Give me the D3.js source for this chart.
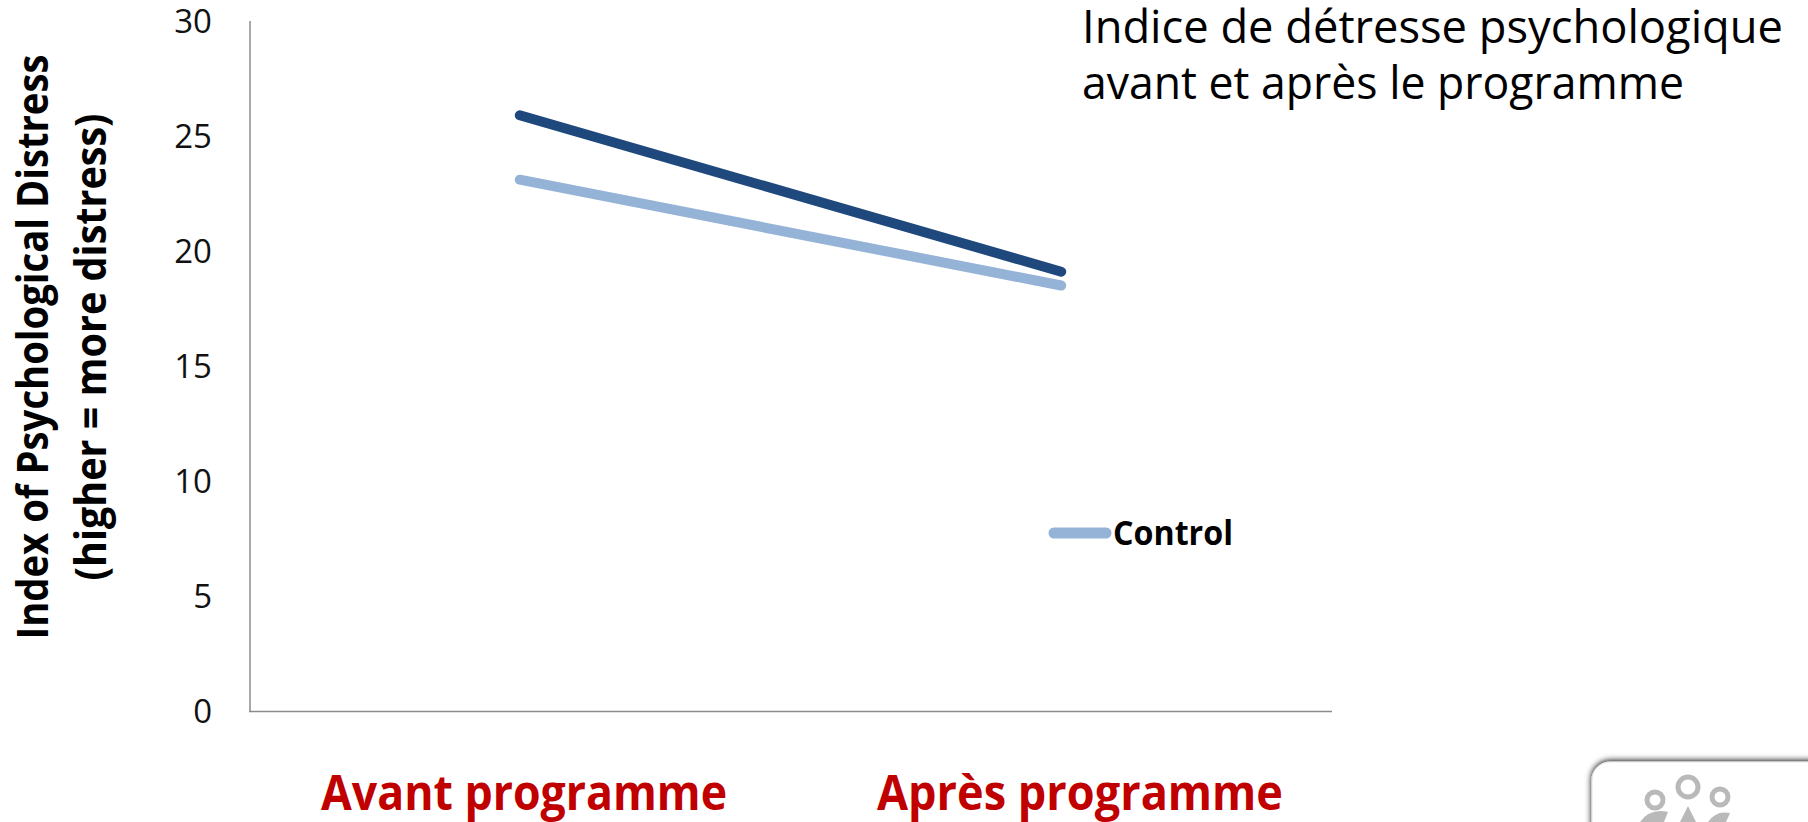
<!DOCTYPE html>
<html>
<head>
<meta charset="utf-8">
<script src="https://cdn.jsdelivr.net/npm/d3@7"></script>
<style>
  html, body { margin: 0; padding: 0; background: #ffffff; }
  svg { display: block; }
</style>
</head>
<body>
<svg id="chart" width="1808" height="822"></svg>
<script>
// ---- data ----
const categories = ["Avant programme", "Après programme"];
const interventionValues = [25.9, 19.1];
const controlValues = [23.1, 18.5];
const yTicks = [0, 5, 10, 15, 20, 25, 30];
const seriesNames = ["Intervention", "Control"];
const titleLines = ["Indice de détresse psychologique", "avant et après le programme"];
const yTitleLines = ["Index of Psychological Distress", "(higher = more distress)"];

const svg = d3.select("#chart");

const x = d3.scalePoint().domain(categories).range([249, 1332]).padding(0.5);
const xLabel = d3.scalePoint().domain(categories).range([246, 1358]).padding(0.5);
const y = d3.scaleLinear().domain([0, 30]).range([711, 21]);

// axes lines
svg.append("line").attr("x1", 250).attr("x2", 250).attr("y1", y(30)).attr("y2", y(0))
  .attr("stroke", "#8c8c8c").attr("stroke-width", 1.5);
svg.append("line").attr("x1", 249).attr("x2", 1332).attr("y1", y(0) + 0.5).attr("y2", y(0) + 0.5)
  .attr("stroke", "#8c8c8c").attr("stroke-width", 1.5);

// y tick labels
svg.append("g").selectAll("text").data(yTicks).join("text")
  .attr("x", 212).attr("y", d => y(d) + 12)
  .attr("text-anchor", "end")
  .attr("font-family", "'Open Sans', sans-serif")
  .attr("font-size", 33).attr("fill", "#111")
  .text(d => d);

// y-axis title
const yt = svg.append("g");
yTitleLines.forEach((t, i) => {
  yt.append("text")
    .attr("transform", `translate(${[48, 106][i]},${347}) rotate(-90)`)
    .attr("text-anchor", "middle")
    .attr("font-family", "'Open Sans', sans-serif")
    .attr("font-weight", "bold")
    .attr("font-size", 43)
    .attr("textLength", [585, 467][i])
    .attr("lengthAdjust", "spacingAndGlyphs")
    .attr("fill", "#000")
    .text(t);
});

// category labels
svg.append("g").selectAll("text").data(categories).join("text")
  .attr("x", d => xLabel(d)).attr("y", 810)
  .attr("text-anchor", "middle")
  .attr("font-family", "'Open Sans', sans-serif")
  .attr("font-weight", "bold")
  .attr("font-size", 48)
  .attr("textLength", 406)
  .attr("lengthAdjust", "spacingAndGlyphs")
  .attr("fill", "#C00000")
  .text(d => d);

// lines
const line = d3.line().x((d, i) => x(categories[i])).y(d => y(d));
svg.append("path").datum(controlValues).attr("d", line)
  .attr("fill", "none").attr("stroke", "#95B3D7").attr("stroke-width", 10)
  .attr("stroke-linecap", "round");
svg.append("path").datum(interventionValues).attr("d", line)
  .attr("fill", "none").attr("stroke", "#1F497D").attr("stroke-width", 10)
  .attr("stroke-linecap", "round");

// legend (Control)
const lg = svg.append("g").attr("transform", "translate(1049,533)");
lg.append("line").attr("x1", 5).attr("x2", 57).attr("y1", 0).attr("y2", 0)
  .attr("stroke", "#95B3D7").attr("stroke-width", 11).attr("stroke-linecap", "round");
lg.append("text").attr("x", 64).attr("y", 12)
  .attr("font-family", "'Open Sans', sans-serif").attr("font-weight", "bold")
  .attr("font-size", 34).attr("textLength", 120).attr("lengthAdjust", "spacingAndGlyphs")
  .attr("fill", "#000").text(seriesNames[1]);

// title
titleLines.forEach((t, i) => {
  svg.append("text")
    .attr("x", 1082).attr("y", [43, 99][i])
    .attr("font-family", "'Open Sans', sans-serif")
    .attr("font-size", 46)
    .attr("textLength", [701, 602][i])
    .attr("lengthAdjust", "spacingAndGlyphs")
    .attr("fill", "#000")
    .text(t);
});

// logo box (bottom right)
const defs = svg.append("defs");
const f = defs.append("filter").attr("id", "sh").attr("x", "-20%").attr("y", "-20%").attr("width", "140%").attr("height", "140%");
f.append("feGaussianBlur").attr("in", "SourceAlpha").attr("stdDeviation", 3);
f.append("feOffset").attr("dx", 0).attr("dy", -1).attr("result", "b");
const fm = f.append("feMerge");
fm.append("feMergeNode").attr("in", "b");
fm.append("feMergeNode").attr("in", "SourceGraphic");
const logo = svg.append("g");
logo.append("rect").attr("x", 1592).attr("y", 762).attr("width", 260).attr("height", 120).attr("rx", 18)
  .attr("fill", "#fff").attr("stroke", "#e6e6e6").attr("filter", "url(#sh)");
[[1655, 800, 8], [1688, 787, 10], [1720, 797, 8]].forEach(c => {
  logo.append("circle").attr("cx", c[0]).attr("cy", c[1]).attr("r", c[2])
    .attr("fill", "none").attr("stroke", "#b9b9b9").attr("stroke-width", 5);
});
logo.append("path").attr("d", "M1640,822 Q1650,808 1668,812 L1664,822 Z").attr("fill", "#b9b9b9");
logo.append("path").attr("d", "M1680,822 L1688,806 L1696,822 Z").attr("fill", "#b9b9b9");
logo.append("path").attr("d", "M1708,822 Q1716,810 1730,813 L1726,822 Z").attr("fill", "#b9b9b9");
</script>
</body>
</html>
